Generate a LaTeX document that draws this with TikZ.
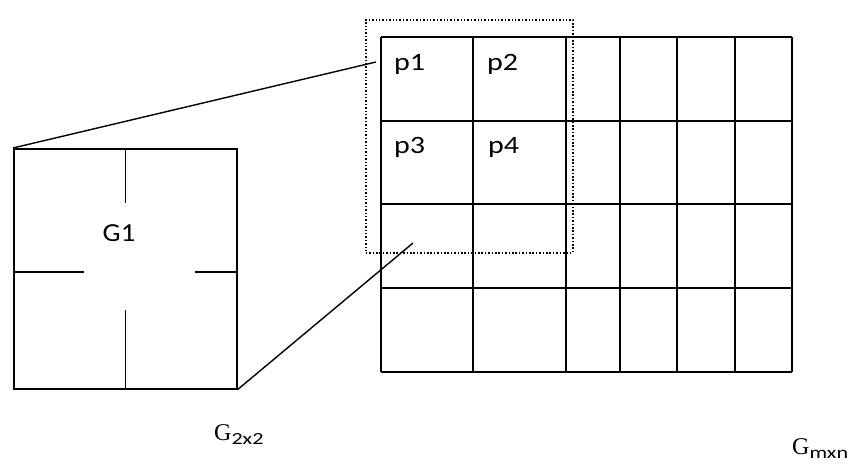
\documentclass[tikz,border=0pt]{standalone}
\usepackage{fontspec}
\setmainfont{Liberation Serif}
\newfontfamily\cellfont{Carlito}
\newcommand{\wide}[1]{\scalebox{1.2}[1]{#1}}
\newcommand{\capsub}[1]{\raisebox{-4pt}{\scalebox{1.3}[1]{\cellfont\fontsize{17}{17}\selectfont #1}}}
\begin{document}
\begin{tikzpicture}[x=1pt,y=-1pt,
  gridline/.style={line width=1.6pt,black},
  celltext/.style={font=\cellfont\fontsize{25}{25}\selectfont,inner sep=0pt,anchor=base west},
  zoomline/.style={line width=1.4pt},
  captext/.style={font=\fontsize{24}{24}\selectfont,inner sep=0pt,anchor=base west}]
\useasboundingbox (0,0) rectangle (855,470);
% small box G2x2
\node[draw,line width=1.6pt,minimum width=223pt,minimum height=240pt,inner sep=0pt,anchor=north west] (small) at (13,148) {};
\draw[gridline] (small.north) -- ++(0,55);
\draw[gridline] (small.south) -- ++(0,-80);
\draw[gridline] (small.west) ++(0,3) -- ++(71,0);
\draw[gridline] (small.east) ++(0,3) -- ++(-43,0);
\node[font=\cellfont\fontsize{26}{26}\selectfont,inner sep=0pt,anchor=base] (g1) at (119,242) {\scalebox{1.1}[1]{G1}};
% big grid
\foreach \x in {381,473,566,620,677,735,792} \draw[gridline] (\x,37) -- (\x,372);
\foreach \y in {37,121,204,288,372} \draw[gridline] (381,\y) -- (792,\y);
\node[draw=none,minimum width=411pt,minimum height=335pt,inner sep=0pt,anchor=north west] (big) at (381,37) {};
% dotted zoom window
\node[draw,dash pattern=on 1.5pt off 1.9pt,line width=1.6pt,minimum width=207pt,minimum height=233pt,inner sep=0pt,anchor=north west] (win) at (365,19) {};
% cell labels
\node[celltext] (p1) at (394,71) {\wide{p1}};
\node[celltext] (p2) at (487,71) {\wide{p2}};
\node[celltext] (p3) at (394,154) {\wide{p3}};
\node[celltext] (p4) at (488,154) {\wide{p4}};
% connectors
\coordinate (zt) at (376,62);
\coordinate (zb) at (413,243);
\draw[zoomline] (small.north west) -- (zt);
\draw[zoomline] (small.south east) -- (zb);
% captions
\node[captext] (c1) at (214,441) {G\capsub{2x2}};
\node[captext] (c2) at (792,455) {G\capsub{mxn}};
\end{tikzpicture}
\end{document}
